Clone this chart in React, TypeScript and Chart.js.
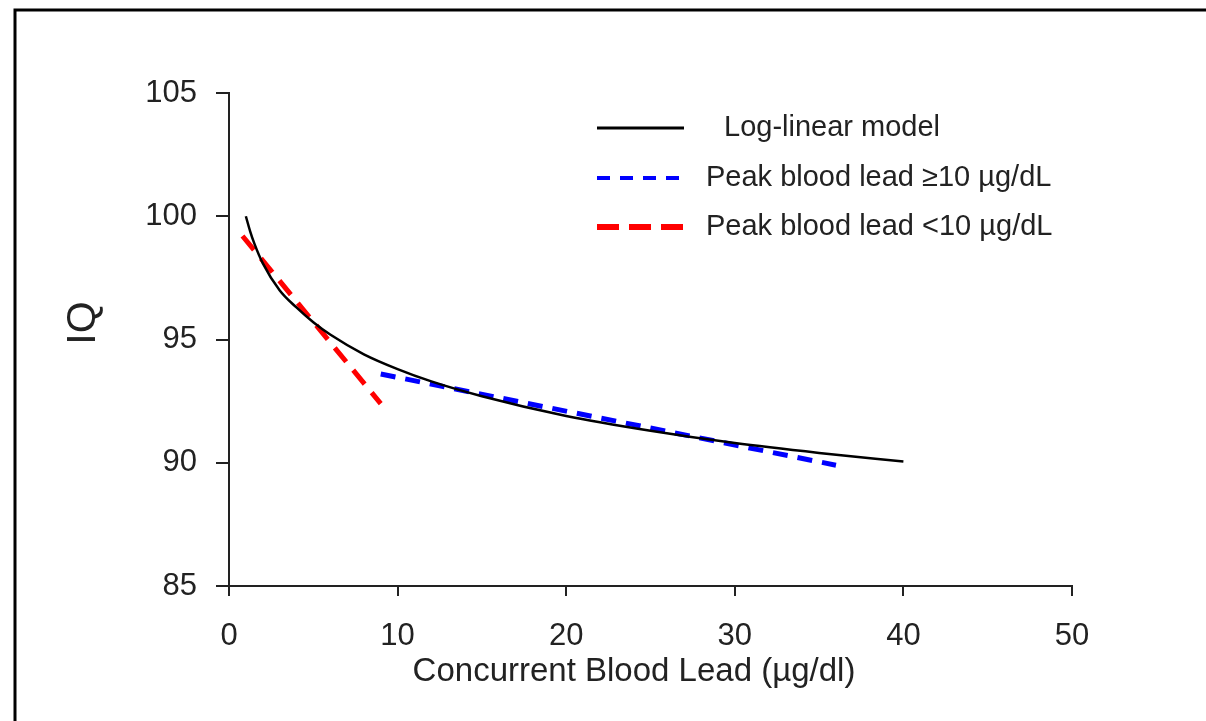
import React, { useEffect, useRef } from "react";
import { Chart, registerables } from "chart.js";

Chart.register(...registerables);

// ---- data ----
const logLinearX = [1, 1.25, 1.5, 2, 3, 4, 5, 6, 8, 10, 12, 15, 20, 25, 30, 35, 40];
const logLinearY = [100.0, 99.4, 98.9, 98.1, 97.0, 96.3, 95.7, 95.2, 94.4, 93.8, 93.3, 92.7, 91.9, 91.3, 90.8, 90.4, 90.05];

const peakHighX = [9, 36];
const peakHighY = [93.6, 89.9];

const peakLowX = [0.8, 9];
const peakLowY = [99.2, 92.4];

const seriesLabels = ["Log-linear model", "Peak blood lead \u226510 \u00b5g/dL", "Peak blood lead <10 \u00b5g/dL"];
const xTicks = [0, 10, 20, 30, 40, 50];
const yTicks = [85, 90, 95, 100, 105];
const xTitle = "Concurrent Blood Lead (\u00b5g/dl)";
const yTitle = "IQ";

const FONT = "'Liberation Sans', Arial, Helvetica, sans-serif";
const TEXT = "#222222";
const AXIS = "#222222";

const toPts = (xs: number[], ys: number[]) => xs.map((x, i) => ({ x, y: ys[i] }));

const decorPlugin = {
  id: "decor",
  afterDraw(chart: any) {
    const ctx = chart.ctx as CanvasRenderingContext2D;
    ctx.save();
    // outer frame
    ctx.strokeStyle = "#000";
    ctx.lineWidth = 3;
    ctx.strokeRect(15, 10, 1300, 800);

    // axis titles
    ctx.fillStyle = TEXT;
    ctx.textAlign = "center";
    ctx.textBaseline = "middle";
    ctx.font = `33px ${FONT}`;
    ctx.fillText(xTitle, 634, 672);
    ctx.save();
    ctx.translate(84, 323);
    ctx.rotate(-Math.PI / 2);
    ctx.font = `41px ${FONT}`;
    ctx.fillText(yTitle, 0, 0);
    ctx.restore();

    // legend
    const rows = [
      { y: 128, textX: 724, dash: [] as number[], width: 3 },
      { y: 178, textX: 706, dash: [13, 10], width: 4 },
      { y: 227, textX: 706, dash: [22, 10], width: 6 },
    ];
    chart.data.datasets.forEach((ds: any, i: number) => {
      const r = rows[i];
      ctx.beginPath();
      ctx.setLineDash(r.dash);
      ctx.strokeStyle = ds.borderColor;
      ctx.lineWidth = r.width;
      ctx.moveTo(597, r.y);
      ctx.lineTo(684, r.y);
      ctx.stroke();
      ctx.setLineDash([]);
      ctx.textAlign = "left";
      ctx.textBaseline = "middle";
      ctx.font = `29px ${FONT}`;
      ctx.fillStyle = TEXT;
      ctx.fillText(ds.label, r.textX, r.y);
    });
    ctx.restore();
  },
};

export default function App() {
  const ref = useRef<HTMLCanvasElement | null>(null);
  useEffect(() => {
    if (!ref.current) return;
    const chart = new Chart(ref.current, {
      type: "line",
      data: {
        datasets: [
          {
            label: seriesLabels[0],
            data: toPts(logLinearX, logLinearY),
            borderColor: "#000000",
            borderWidth: 2.5,
            pointRadius: 0,
            cubicInterpolationMode: "monotone",
            fill: false,
          },
          {
            label: seriesLabels[1],
            data: toPts(peakHighX, peakHighY),
            borderColor: "#0000ff",
            borderWidth: 5,
            borderDash: [15, 10],
            pointRadius: 0,
            fill: false,
          },
          {
            label: seriesLabels[2],
            data: toPts(peakLowX, peakLowY),
            borderColor: "#ff0000",
            borderWidth: 5,
            borderDash: [18, 11],
            pointRadius: 0,
            fill: false,
          },
        ],
      } as any,
      options: {
        responsive: false,
        animation: false,
        devicePixelRatio: 1,
        layout: { padding: { left: 0, top: 93, right: 134, bottom: 0 } },
        plugins: { legend: { display: false }, tooltip: { enabled: false } },
        scales: {
          x: {
            type: "linear",
            min: 0,
            max: 50,
            afterFit: (s: any) => { s.height = 135; },
            afterBuildTicks: (s: any) => { s.ticks = xTicks.map((v) => ({ value: v })); },
            ticks: { color: TEXT, font: { family: FONT, size: 31 }, padding: 22, maxRotation: 0 },
            grid: { drawOnChartArea: false, drawTicks: true, tickLength: 10, color: AXIS, lineWidth: 2 },
            border: { display: true, color: AXIS, width: 2 },
          },
          y: {
            type: "linear",
            min: 85,
            max: 105,
            afterFit: (s: any) => { s.width = 229; },
            afterBuildTicks: (s: any) => { s.ticks = yTicks.map((v) => ({ value: v })); },
            ticks: { color: TEXT, font: { family: FONT, size: 31 }, padding: 19 },
            grid: { drawOnChartArea: false, drawTicks: true, tickLength: 13, color: AXIS, lineWidth: 2 },
            border: { display: true, color: AXIS, width: 2 },
          },
        },
      } as any,
      plugins: [decorPlugin],
    });
    return () => chart.destroy();
  }, []);
  return (
    <div style={{ position: "fixed", left: 0, top: 0, width: 1206, height: 721, background: "#fff" }}>
      <canvas ref={ref} width={1206} height={721} style={{ display: "block" }} />
    </div>
  );
}
